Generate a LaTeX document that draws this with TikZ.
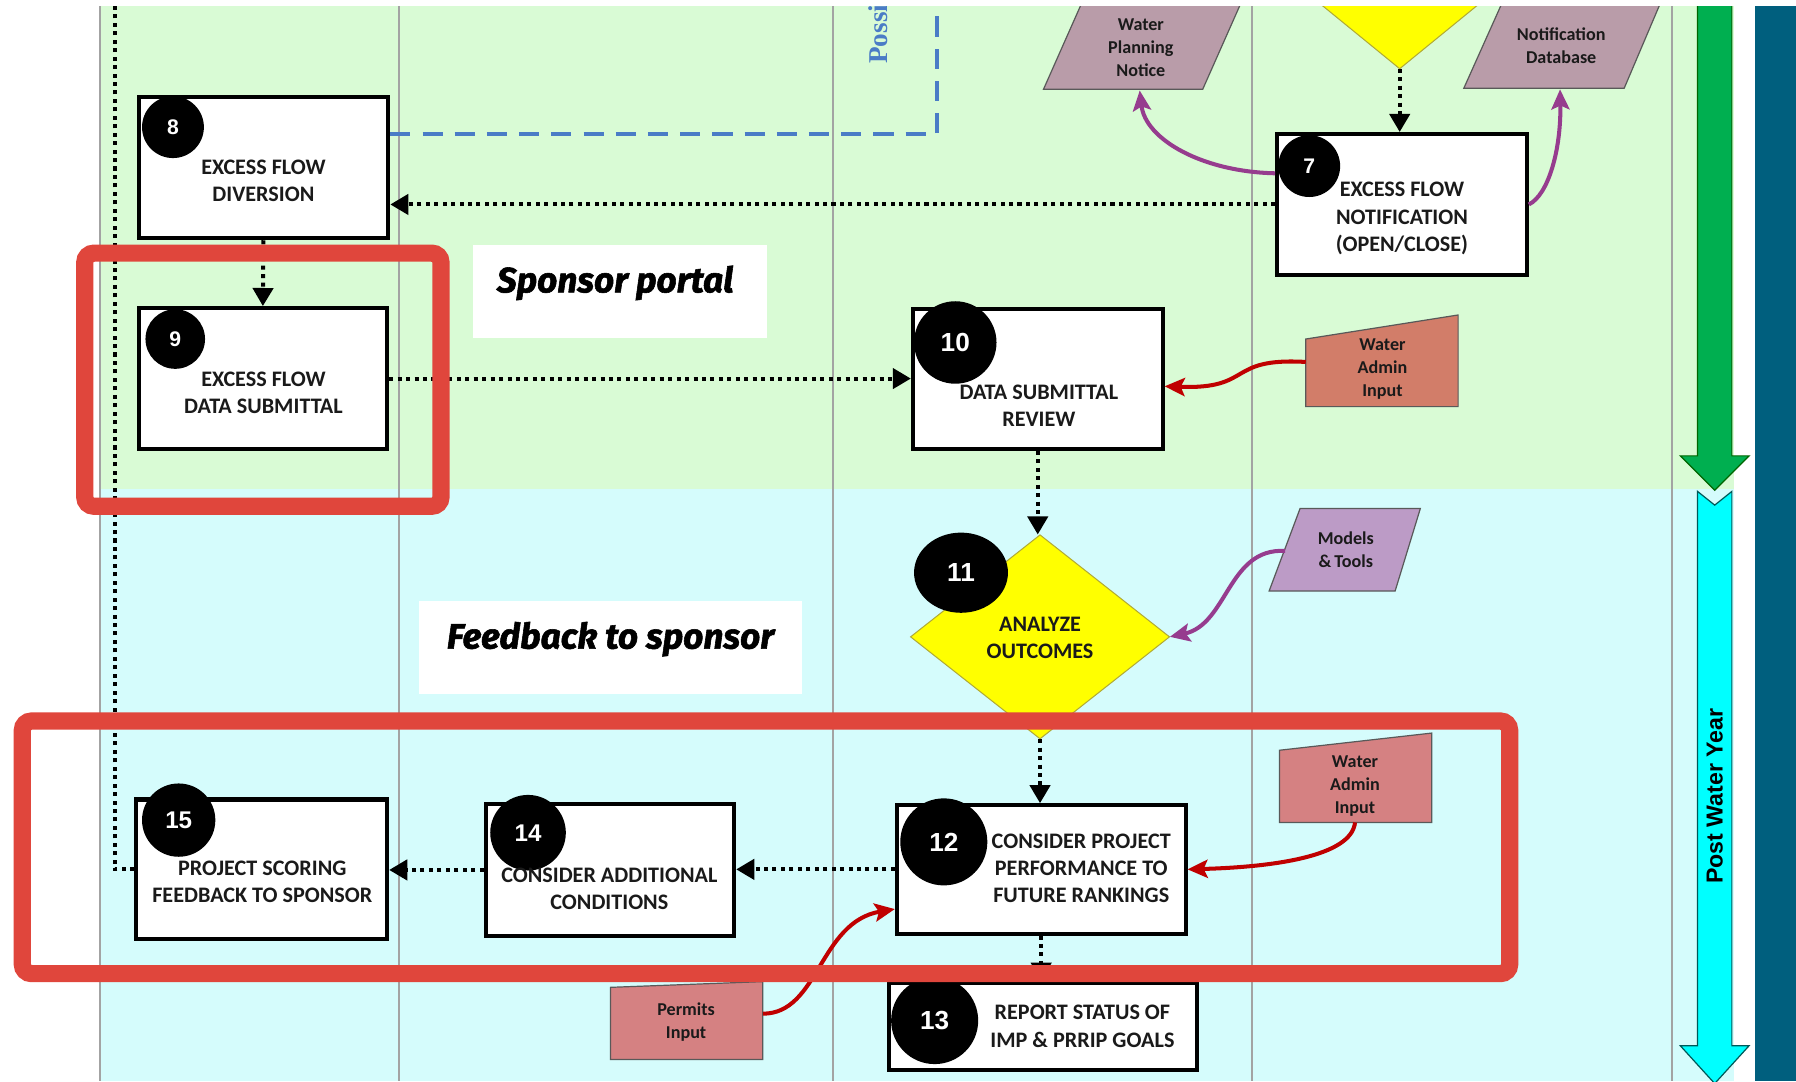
\documentclass[tikz,border=0pt]{standalone}
\usepackage{fontspec}
\setmainfont{Carlito}
\newfontfamily\tagfamily{Fira Sans}[BoldItalicFeatures={FakeBold=1.6}]
\newfontfamily\headfamily{Liberation Sans}
\newfontfamily\serifhead{Liberation Serif}
\usetikzlibrary{arrows.meta,fit,calc,shapes.geometric}
\definecolor{lanegreen}{HTML}{D9FBD5}
\definecolor{lanecyan}{HTML}{D5FCFC}
\definecolor{laneline}{HTML}{A3A3A3}
\definecolor{hilite}{HTML}{E0463C}
\definecolor{mauve}{HTML}{B99CA9}
\definecolor{lilac}{HTML}{BC9BC6}
\definecolor{salmon}{HTML}{D27D69}
\definecolor{rosy}{HTML}{D58182}
\definecolor{plum}{HTML}{963C8E}
\definecolor{darkred}{HTML}{C00000}
\definecolor{dashblue}{HTML}{4A7CC6}
\definecolor{barblue}{HTML}{005F7E}
\definecolor{arrowgreen}{HTML}{00AF50}
\definecolor{arrowcyan}{HTML}{00FFFF}
\definecolor{inktext}{HTML}{1A1A1A}
\definecolor{decision}{HTML}{FFFF00}

\begin{document}
\begin{tikzpicture}[x=0.2mm,y=-0.2mm,
  procbox/.style={draw=black, line width=2pt, fill=white, inner sep=0pt},
  boxlabel/.style={text=inktext, align=center, inner sep=0pt,
    font=\fontsize{11}{13.6}\selectfont\bfseries},
  datalabel/.style={text=inktext, align=center, inner sep=0pt,
    font=\fontsize{9}{11.4}\selectfont\bfseries},
  numdot/.style={circle, fill=black, text=white, inner sep=0pt,
    font=\headfamily\bfseries\fontsize{#1}{#1}\selectfont},
  dataedge/.style={draw=black!65, line width=0.6pt},
  flow/.style={line width=2pt, dash pattern=on 2pt off 2.2pt,
    -{Triangle[length=9pt,width=10pt]}},
  flowplain/.style={line width=2pt, dash pattern=on 2pt off 2.2pt},
  feed/.style={line width=2pt, -{Stealth[length=10pt,width=9pt,inset=2pt]}},
  bluedash/.style={dashblue, line width=1.8pt, dash pattern=on 10pt off 6pt},
  tagbox/.style={fill=white, inner sep=0pt},
  tagtext/.style={inner sep=0pt,
    font=\tagfamily\fontsize{17.5}{20}\selectfont\bfseries\itshape},
  hilitebox/.style={draw=hilite, line width=3mm, rounded corners=1.6mm},
]
\useasboundingbox (0,0) rectangle (1568,944);
\fill[white] (0,0) rectangle (1568,944);

\begin{scope}
\clip (0,6) rectangle (1568,944);

% swim-lane backgrounds and dividers
\fill[lanegreen] (87,0) rectangle (1514,427);
\fill[lanecyan] (87,427) rectangle (1514,944);
\foreach \lx in {87,348,727,1093,1460}
  \draw[laneline, line width=0.9pt] (\lx,0) -- (\lx,944);
\fill[barblue] (1532,0) rectangle (1568,944);

% process boxes
\node[procbox, fit={(121,85)(339,208)}] (b8) {};
\node[procbox, fit={(121,269)(338,392)}] (b9) {};
\node[procbox, fit={(1115,117)(1333,240)}] (b7) {};
\node[procbox, fit={(797,270)(1015,392)}] (b10) {};
\node[procbox, fit={(783,703)(1035,815)}] (b12) {};
\node[procbox, fit={(776,858)(1045,934)}] (b13) {};
\node[procbox, fit={(424,702)(641,817)}] (b14) {};
\node[procbox, fit={(119,698)(338,820)}] (b15) {};

% decisions
\filldraw[fill=decision, draw=olive!70, line width=0.5pt]
  (1222,60) -- (1124,-20) -- (1320,-20) -- cycle;
\coordinate (d6) at (1222,60);
\filldraw[fill=decision, draw=olive!70, line width=0.5pt]
  (795,556) -- (908,467) -- (1021,556) -- (908,645) -- cycle;
\node[fit={(795,556)(1021,556)(908,467)(908,645)}, inner sep=0pt] (d11) {};

% data shapes
\filldraw[fill=mauve, dataedge] (911,78) -- (950,-10) -- (1089,-10) -- (1050,78) -- cycle;
\coordinate (wpn-in) at (995,79);
\filldraw[fill=mauve, dataedge] (1278,77) -- (1317,-10) -- (1455,-10) -- (1418,77) -- cycle;
\coordinate (ndb-in) at (1362,78);
\filldraw[fill=salmon, dataedge] (1140,296) -- (1273,275) -- (1273,355) -- (1140,355) -- cycle;
\coordinate (wai1-out) at (1140,316);
\filldraw[fill=lilac, dataedge] (1135,444) -- (1240,444) -- (1218,516) -- (1108,516) -- cycle;
\coordinate (mt-out) at (1122,481);
\filldraw[fill=rosy, dataedge] (1117,655) -- (1250,640) -- (1250,718) -- (1117,718) -- cycle;
\coordinate (wai2-out) at (1183,718);
\filldraw[fill=rosy, dataedge] (533,862) -- (666,857) -- (666,925) -- (533,925) -- cycle;
\coordinate (perm-out) at (666,885);

% step numbers
\node[numdot=10.5, minimum size=10.8mm] (n7) at (1143,145) {7};
\node[numdot=10.5, minimum size=10.8mm] (n8) at (151,111) {8};
\node[numdot=10.5, minimum size=10.4mm] (n9) at (153,296) {9};
\node[numdot=13, minimum size=14.4mm] (n10) at (834,299) {10};
\node[numdot=13, ellipse, minimum width=16.4mm, minimum height=14mm] (n11) at (839,500) {11};
\node[numdot=13, minimum size=15.2mm] (n12) at (824,735) {12};
\node[numdot=13, minimum size=15.2mm] (n13) at (816,891) {13};
\node[numdot=12, minimum size=13.2mm] (n14) at (461,727) {14};
\node[numdot=12, minimum size=12.8mm] (n15) at (156,716) {15};

% sequence flow
\coordinate (lefttrack) at (100,-10);
\coordinate (bluecorner) at (818,117);
\coordinate (bluetop) at (818,-10);
\draw[bluedash] (bluecorner -| b8.east) -- (bluecorner) -- (bluetop);
\draw[flowplain] (b15.west) -| (lefttrack);
\draw[flow] (b8.south) -- (b9.north);
\draw[flow] (b7.west) -- (b7.west -| b8.east);
\draw[flow] (d6) -- (d6 |- b7.north);
\draw[flow] (b9.east) -- (b9.east -| b10.west);
\draw[flow] (b10.south) -- (b10.south |- d11.north);
\draw[flow] (d11.south) -- (d11.south |- b12.north);
\draw[flow] (b12.west) -- (b12.west -| b14.east);
\draw[flow] (b14.west) -- (b14.west -| b15.east);
\draw[flow] (b12.south) -- (b12.south |- b13.north);

% information links
\coordinate (b7-out) at ($(b7.north west)!0.285!(b7.south west)$);
\coordinate (b10-in) at ($(b10.north east)!0.55!(b10.south east)$);
\coordinate (b12-in) at ($(b12.north west)!0.8!(b12.south west)$);
\draw[feed, plum] (b7-out) .. controls (1050,150) and (1000,122) .. (wpn-in);
\draw[feed, plum] (b7.east) .. controls (1352,170) and (1363,130) .. (ndb-in);
\draw[feed, plum] (mt-out) .. controls (1072,478) and (1072,545) .. (d11.east);
\draw[feed, darkred] (wai1-out) .. controls (1070,312) and (1095,340) .. (b10-in);
\draw[feed, darkred] (wai2-out) .. controls (1180,748) and (1110,757) .. (b12.east);
\draw[feed, darkred] (perm-out) .. controls (715,885) and (715,805) .. (b12-in);

% texts
\node[boxlabel] (t8) at (230,158) {EXCESS FLOW\\DIVERSION};
\node[boxlabel] (t9) at (230,343) {EXCESS FLOW\\DATA SUBMITTAL};
\node[boxlabel] (t7) at (1224,191) {EXCESS FLOW\\NOTIFICATION\\(OPEN/CLOSE)};
\node[boxlabel] (t10) at (907,354) {DATA SUBMITTAL\\REVIEW};
\node[boxlabel] (t11) at (908,557) {ANALYZE\\OUTCOMES};
\node[boxlabel] (t12) at (944,758) {CONSIDER PROJECT\\PERFORMANCE TO\\FUTURE RANKINGS};
\node[boxlabel] (t13) at (945,896) {REPORT STATUS OF\\IMP \& PRRIP GOALS};
\node[boxlabel] (t14) at (532,776) {CONSIDER ADDITIONAL\\CONDITIONS};
\node[boxlabel] (t15) at (229,770) {PROJECT SCORING\\FEEDBACK TO SPONSOR};
\node[datalabel] (wpn) at (996,42) {Water\\Planning\\Notice};
\node[datalabel] (ndb) at (1363,40) {Notification\\Database};
\node[datalabel] (wai1) at (1207,322) {Water\\Admin\\Input};
\node[datalabel] (mt) at (1175,480) {Models\\\&\,Tools};
\node[datalabel] (wai2) at (1183,686) {Water\\Admin\\Input};
\node[datalabel] (perm) at (599,892) {Permits\\Input};
\node[rotate=90, anchor=base west, inner sep=0pt, text=dashblue,
  font=\serifhead\fontsize{13.5}{14}\selectfont\bfseries] (poss) at (775,56) {Possi};

% callouts
\node[tagbox, fit={(413,214)(670,295)}] (sp) {};
\node[tagtext] (spt) at (537,247) {Sponsor portal};
\node[tagbox, fit={(366,525)(700,606)}] (fb) {};
\node[tagtext] (fbt) at (533,558) {Feedback to sponsor};

% highlight frames
\draw[hilitebox] (74,221) rectangle (385,442);
\draw[hilitebox] (19.5,629.5) rectangle (1318,850);

% timeline arrows
\filldraw[fill=arrowgreen, draw=green!40!black, line width=0.6pt]
  (1482,-10) -- (1512,-10) -- (1512,398) -- (1527,398) -- (1497,428)
  -- (1467,398) -- (1482,398) -- cycle;
\filldraw[fill=arrowcyan, draw=teal!70!black, line width=0.6pt]
  (1482,429) -- (1497,441) -- (1512,429) -- (1512,913) -- (1527,913)
  -- (1497,946) -- (1467,913) -- (1482,913) -- cycle;
\node[rotate=90, inner sep=0pt, font=\headfamily\fontsize{11.5}{12}\selectfont\bfseries]
  (pwy) at (1497,695) {Post Water Year};
\end{scope}
\end{tikzpicture}
\end{document}
